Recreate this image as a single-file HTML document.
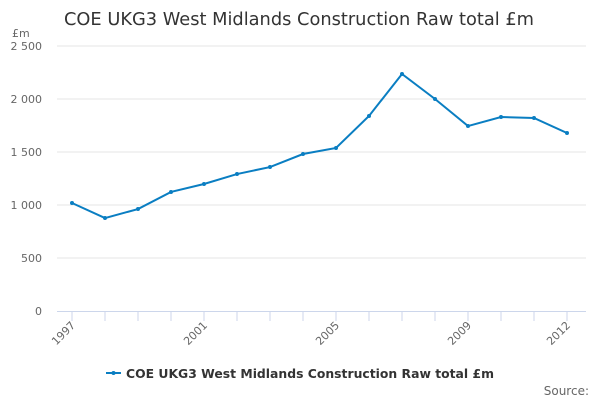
<!DOCTYPE html>
<html><head><meta charset="utf-8"><style>
body{margin:0;background:#fff;font-family:"DejaVu Sans","Liberation Sans",sans-serif;}
svg text{font-family:"DejaVu Sans","Liberation Sans",sans-serif;}
</style></head><body>
<svg id="chart" width="600" height="400" xmlns="http://www.w3.org/2000/svg">
<text x="64" y="25" font-size="17.5" fill="#333" textLength="470" lengthAdjust="spacingAndGlyphs">COE UKG3 West Midlands Construction Raw total £m</text>
<text x="12" y="37" font-size="11" fill="#666">£m</text>
<g id="grid"></g><g id="xaxis"></g><g id="series"></g>
<g>
<line x1="106" y1="373" x2="121" y2="373" stroke="#0a7ec2" stroke-width="2"/>
<circle cx="113.5" cy="373" r="2" fill="#0a7ec2"/>
<text x="126" y="378" font-size="12.5" font-weight="bold" fill="#333" textLength="368" lengthAdjust="spacingAndGlyphs">COE UKG3 West Midlands Construction Raw total £m</text>
</g>
<text x="589" y="395" font-size="12" fill="#666" text-anchor="end">Source:</text>
</svg>
<script>
const years=[1997,1998,1999,2000,2001,2002,2003,2004,2005,2006,2007,2008,2009,2010,2011,2012];
const values=[1019,877,962,1123,1198,1292,1358,1481,1538,1840,2236,2000,1745,1830,1821,1679];
const yTicks=[0,500,1000,1500,2000,2500];
const yTickLabels=["0","500","1 000","1 500","2 000","2 500"];
const xLabelYears=[1997,2001,2005,2009,2012];
const NS="http://www.w3.org/2000/svg";
const x=i=>72+i*33, y=v=>311-v*0.106;
function mk(t,a,p){const e=document.createElementNS(NS,t);for(const k in a)e.setAttribute(k,a[k]);p.appendChild(e);return e;}
const grid=document.getElementById('grid');
yTicks.forEach((v,i)=>{
 if(v>0){const l=mk('line',{x1:57,x2:586,y1:y(v),y2:y(v),stroke:'#e6e6e6'},grid);
 
 }
 const t=mk('text',{x:42,y:y(v)+4,'font-size':11,fill:'#666','text-anchor':'end'},grid);
 t.textContent=yTickLabels[i];
 
 
});
const xa=document.getElementById('xaxis');
const ax=mk('line',{x1:57,x2:586,y1:311.5,y2:311.5,stroke:'#ccd6eb'},xa);


years.forEach((yr,i)=>{
 const tk=mk('line',{x1:x(i),x2:x(i),y1:311,y2:321,stroke:'#ccd6eb'},xa);
 
 
 if(xLabelYears.includes(yr)){
  const t=mk('text',{x:x(i)+4,y:326,'font-size':11,fill:'#666','text-anchor':'end',transform:`rotate(-45 ${x(i)+4} 326)`},xa);
  t.textContent=yr;
  
  
 }
});
const s=document.getElementById('series');
const pl=mk('polyline',{points:values.map((v,i)=>x(i)+','+y(v)).join(' '),fill:'none',stroke:'#0a7ec2','stroke-width':2},s);


values.forEach((v,i)=>{
 const c=mk('circle',{cx:x(i),cy:y(v),r:2,fill:'#0a7ec2'},s);
 
 
});
</script>
</body></html>
